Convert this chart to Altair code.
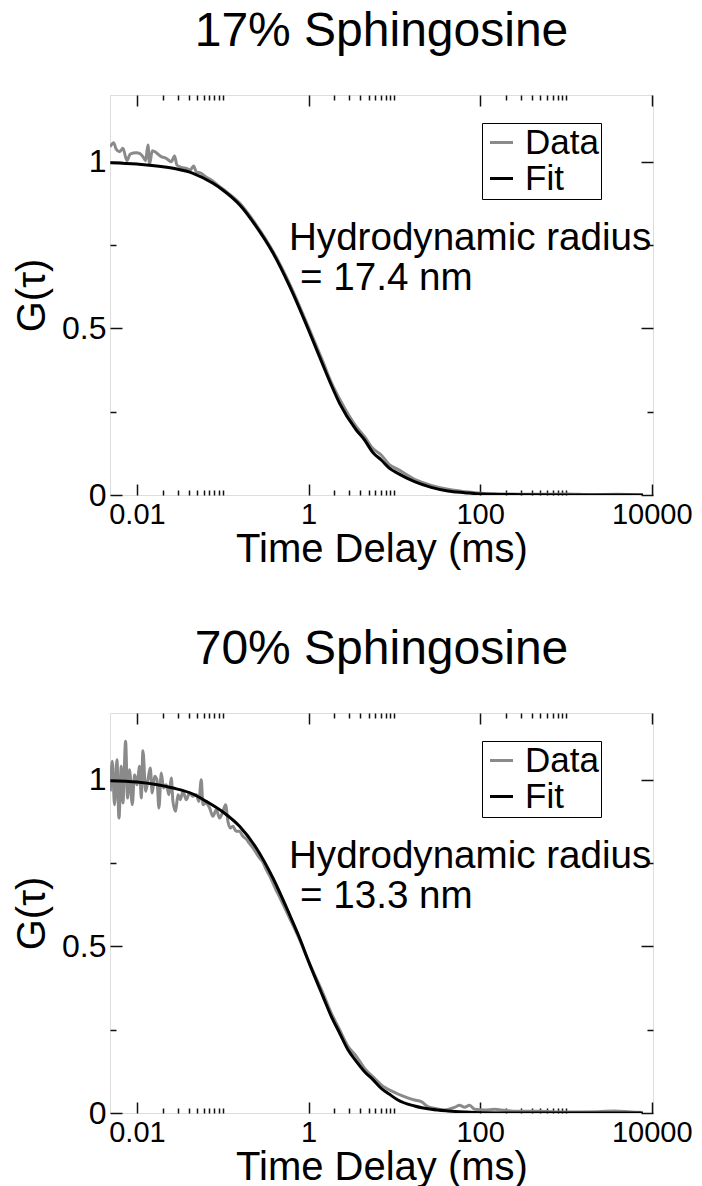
import altair as alt
import pandas as pd

FONT = "Liberation Sans"

panel_titles = ["17% Sphingosine", "70% Sphingosine"]
annotation_line1 = ["Hydrodynamic radius", "Hydrodynamic radius"]
annotation_line2 = ["= 17.4 nm", "= 13.3 nm"]
series_names = ["Data", "Fit"]

# ---- panel 1 (17 %) ----
p1_data_t = [0.00489, 0.00534, 0.00574, 0.00628, 0.00686, 0.00764, 0.00835, 0.00982, 0.01074, 0.01174,
             0.01262, 0.01343, 0.01404, 0.01508, 0.01678, 0.01919, 0.02194, 0.0251, 0.02744, 0.0292,
             0.0328, 0.0376, 0.0418, 0.0457, 0.0491, 0.0561, 0.0642, 0.0734, 0.084, 0.1,
             0.158, 0.246, 0.387, 0.605, 1.0, 1.47, 1.84, 2.3, 3.6, 4.5,
             5.6, 7.04, 8.8, 11.0, 17.2, 26.9, 42.1, 65.9, 103, 200,
             500, 1000, 2000, 4000, 7900]
p1_data_g = [1.045, 1.057, 1.037, 1.030, 1.040, 1.003, 1.023, 1.027, 1.025, 1.015,
             1.003, 1.050, 0.993, 1.033, 1.027, 1.015, 1.010, 1.000, 1.017, 0.990,
             0.983, 0.980, 0.975, 0.987, 0.970, 0.965, 0.953, 0.945, 0.933, 0.918,
             0.875, 0.810, 0.730, 0.632, 0.503, 0.400, 0.338, 0.288, 0.205, 0.175,
             0.140, 0.120, 0.090, 0.077, 0.047, 0.029, 0.017, 0.010, 0.005, 0.003,
             0.002, 0.003, 0.001, 0.002, 0.0]
p1_fit_t = [0.0049, 0.01, 0.0265, 0.045, 0.077, 0.1, 0.158, 0.246, 0.387, 0.605,
            1.0, 1.47, 1.84, 2.3, 3.6, 4.5, 5.6, 7.04, 8.8, 11.0,
            17.2, 26.9, 42.1, 65.9, 103, 300, 1000, 7900]
p1_fit_g = [0.997, 0.993, 0.980, 0.965, 0.935, 0.915, 0.870, 0.805, 0.725, 0.625,
            0.495, 0.390, 0.330, 0.275, 0.195, 0.165, 0.128, 0.105, 0.080, 0.065,
            0.040, 0.023, 0.012, 0.007, 0.003, 0.001, 0.0, 0.0]

# ---- panel 2 (70 %) ----
p2_data_t = [0.00489, 0.00515, 0.00548, 0.00584, 0.00617, 0.00656, 0.00686, 0.00737, 0.00778, 0.0082,
             0.00881, 0.00938, 0.01, 0.01074, 0.01122, 0.01174, 0.01262, 0.01343, 0.01429, 0.01508,
             0.01604, 0.0171, 0.01803, 0.01919, 0.02042, 0.02194, 0.0236, 0.02512, 0.02625, 0.0282,
             0.03006, 0.03198, 0.03436, 0.03758, 0.04105, 0.04487, 0.04909, 0.05273, 0.05613, 0.05875,
             0.0631, 0.0703, 0.0768, 0.084, 0.0919, 0.1005, 0.1079, 0.1148, 0.1223, 0.1314,
             0.1436, 0.157, 0.1718, 0.1879, 0.2055, 0.2248, 0.2457, 0.2687, 0.2939, 0.3214,
             0.3515, 0.3843, 0.4203, 0.4596, 0.601, 0.786, 1.0, 1.47, 1.84, 2.3,
             2.88, 3.6, 4.5, 5.88, 7.69, 9.62, 11.0, 13.8, 17.2, 20.6,
             24.6, 29.4, 38.5, 50.4, 57.6, 65.9, 75.3, 86.1, 113, 147,
             193, 275, 471, 964, 2360, 3690, 5770, 7550]
p2_data_g = [0.965, 1.055, 0.925, 1.060, 0.885, 1.040, 0.930, 1.115, 0.945, 1.030,
             0.925, 1.015, 0.985, 1.040, 0.945, 1.087, 0.965, 1.000, 1.035, 0.960,
             1.010, 1.000, 0.915, 1.020, 0.975, 0.985, 0.955, 1.005, 0.935, 0.905,
             0.955, 0.940, 0.965, 0.940, 0.960, 0.950, 0.955, 0.935, 1.000, 0.925,
             0.930, 0.915, 0.890, 0.910, 0.885, 0.905, 0.925, 0.875, 0.855, 0.860,
             0.845, 0.845, 0.830, 0.822, 0.808, 0.795, 0.780, 0.765, 0.752, 0.730,
             0.712, 0.690, 0.668, 0.648, 0.585, 0.520, 0.455, 0.360, 0.300, 0.250,
             0.200, 0.170, 0.134, 0.104, 0.077, 0.064, 0.057, 0.047, 0.039, 0.034,
             0.019, 0.014, 0.009, 0.017, 0.023, 0.017, 0.023, 0.011, 0.009, 0.011,
             0.008, 0.005, 0.005, 0.003, 0.004, 0.006, 0.003, 0.002]
p2_fit_t = [0.0049, 0.01, 0.02625, 0.04487, 0.0642, 0.1005, 0.157, 0.2457, 0.3843, 0.601,
            0.786, 1.0, 1.47, 1.84, 2.3, 2.88, 3.6, 4.5, 5.63, 7.04,
            8.8, 11.0, 17.2, 26.9, 42.1, 65.9, 103, 300, 1000, 7900]
p2_fit_g = [0.997, 0.993, 0.975, 0.957, 0.935, 0.903, 0.860, 0.795, 0.705, 0.595,
            0.525, 0.455, 0.350, 0.290, 0.240, 0.190, 0.155, 0.124, 0.100, 0.074,
            0.056, 0.039, 0.021, 0.011, 0.006, 0.003, 0.001, 0.0, 0.0, 0.0]

x_major = [0.01, 1, 100, 10000]
x_minor = [0.02, 0.03, 0.04, 0.05, 0.06, 0.07, 0.08, 0.09, 0.1,
           2, 3, 4, 5, 6, 7, 8, 9, 10,
           200, 300, 400, 500, 600, 700, 800, 900, 1000]
y_major = [0, 0.5, 1]
y_minor = [0.25, 0.75]

PANELS = [
    (p1_data_t, p1_data_g, p1_fit_t, p1_fit_g),
    (p2_data_t, p2_data_g, p2_fit_t, p2_fit_g),
]

W, H = 543, 400
TICK = "#111111"


def tick_axis(orient, values, size, labels=False, **kw):
    return alt.Axis(orient=orient, values=values, offset=-size, tickSize=size,
                    tickWidth=1.5, tickColor=TICK, domain=False, grid=False,
                    labels=labels, **kw)


def panel(i):
    dt, dg, ft, fg = PANELS[i]
    df = pd.concat([
        pd.DataFrame({"t": dt, "G": dg, "series": series_names[0]}),
        pd.DataFrame({"t": ft, "G": fg, "series": series_names[1]}),
    ], ignore_index=True)
    fit_df = df[df.series == "Fit"]

    xs = alt.Scale(type="log", domain=[0.00485, 10350], nice=False)
    ys = alt.Scale(domain=[0, 1.2], nice=False, zero=False)

    color = alt.Color(
        "series:N",
        scale=alt.Scale(domain=series_names, range=["#8a8a8a", "#000000"]),
        legend=alt.Legend(orient="none", legendX=372, legendY=28, title=None,
                          strokeColor="black", fillColor="white", padding=2,
                          labelFont=FONT, labelFontSize=35, labelColor="black",
                          symbolType="stroke", symbolSize=529, symbolStrokeWidth=3,
                          labelOffset=6, rowPadding=0),
    )

    ax_bottom = tick_axis("bottom", x_major, 11, labels=True, format="~g",
                          labelFont=FONT, labelFontSize=29, labelColor="black",
                          labelPadding=5, labelFlush=False, labelOverlap=False,
                          title="Time Delay (ms)", titleFont=FONT, titleFontSize=40,
                          titleFontWeight="normal", titleColor="black", titlePadding=0)
    ay_left = tick_axis("left", y_major, 12, labels=True, format="~g",
                        labelFont=FONT, labelFontSize=32, labelColor="black",
                        labelPadding=4, labelOverlap=False, labelFlush=False,
                        title="G(τ)", titleFont=FONT, titleFontSize=40,
                        titleFontWeight="normal", titleColor="black", titlePadding=9)

    base = alt.Chart(df)
    data_line = base.transform_filter(alt.datum.series == "Data").mark_line(
        strokeWidth=3, interpolate="monotone", clip=True
    ).encode(
        x=alt.X("t:Q", scale=xs, axis=ax_bottom),
        y=alt.Y("G:Q", scale=ys, axis=ay_left),
        color=color,
    )
    fit_line = base.transform_filter(alt.datum.series == "Fit").mark_line(
        strokeWidth=3, interpolate="monotone", clip=True
    ).encode(
        x=alt.X("t:Q", scale=xs, axis=tick_axis("bottom", x_minor, 5, title=None)),
        y=alt.Y("G:Q", scale=ys, axis=tick_axis("left", y_minor, 6, title=None)),
        color=color,
    )
    ghost1 = alt.Chart(fit_df).mark_line(opacity=0).encode(
        x=alt.X("t:Q", scale=xs, axis=tick_axis("top", x_major, 11, title=None)),
        y=alt.Y("G:Q", scale=ys, axis=tick_axis("right", y_major, 12, title=None)),
    )
    ghost2 = alt.Chart(fit_df).mark_line(opacity=0).encode(
        x=alt.X("t:Q", scale=xs, axis=tick_axis("top", x_minor, 5, title=None)),
        y=alt.Y("G:Q", scale=ys, axis=tick_axis("right", y_minor, 6, title=None)),
    )

    ann = pd.DataFrame({"l1": [annotation_line1[i]], "l2": [annotation_line2[i]]})
    txt1 = alt.Chart(ann).mark_text(align="left", baseline="alphabetic", font=FONT,
                                    fontSize=38.6, color="black").encode(
        x=alt.value(179), y=alt.value(155), text="l1:N")
    txt2 = alt.Chart(ann).mark_text(align="left", baseline="alphabetic", font=FONT,
                                    fontSize=38.6, color="black").encode(
        x=alt.value(190), y=alt.value(195), text="l2:N")

    return alt.layer(data_line, fit_line, ghost1, ghost2, txt1, txt2).resolve_axis(
        x="independent", y="independent"
    ).properties(
        width=W, height=H,
        title=alt.TitleParams(panel_titles[i], fontSize=48, font=FONT, fontWeight="normal",
                              color="black", anchor="middle", baseline="alphabetic", offset=0),
    )


chart = alt.vconcat(panel(0), panel(1), spacing=55).resolve_scale(
    color="independent"
).resolve_legend(color="independent").properties(
    padding={"left": 12, "top": 7, "right": 0, "bottom": 0}
).configure_view(stroke="#111111", strokeWidth=1.5).configure(background="white")

chart.save("out.html", embed_options={"renderer": "svg", "actions": False})
